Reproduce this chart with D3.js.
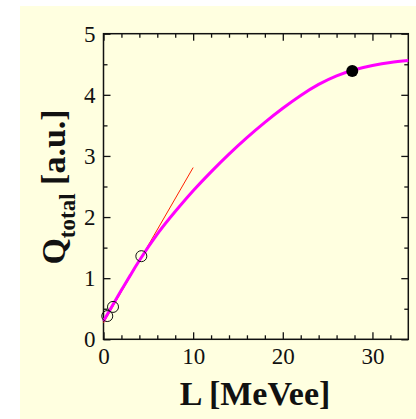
<!DOCTYPE html>
<html>
<head>
<meta charset="utf-8">
<script src="https://cdn.jsdelivr.net/npm/d3@7"></script>
<style>
  html, body { margin: 0; padding: 0; background: #ffffff; }
  svg { display: block; }
  text { font-family: "Liberation Serif", "Times New Roman", serif; fill: #111; }
</style>
</head>
<body>
<svg id="chart" width="416" height="419"></svg>
<script>
// Fitted response curve Q_total(L)
const curveL = [0, 1, 2, 3, 4, 6, 8, 10, 12, 14, 16, 18, 20, 22, 24, 26, 28, 30, 32, 34];
const curveQ = [0.30, 0.555, 0.805, 1.05, 1.29, 1.72, 2.09, 2.43, 2.74, 3.03, 3.30, 3.55, 3.78, 3.99, 4.17, 4.31, 4.41, 4.48, 4.53, 4.56];

// Linear extrapolation from the low-energy points
const linearL = [0, 10];
const linearQ = [0.27, 2.81];

// Measured points: open circles (low energies) and the filled reference point
const openL = [0.42, 1.06, 4.22];
const openQ = [0.38, 0.53, 1.36];
const filledL = [27.75];
const filledQ = [4.39];

// Axis ticks
const xMajor = [0, 10, 20, 30];
const xMinor = [2, 4, 6, 8, 12, 14, 16, 18, 22, 24, 26, 28, 32];
const yMajor = [0, 1, 2, 3, 4, 5];
const yMinor = [0.5, 1.5, 2.5, 3.5, 4.5];

const svg = d3.select("#chart");

// pale panel behind the plot
svg.append("rect")
  .attr("x", 20).attr("y", 6)
  .attr("width", 396).attr("height", 413)
  .attr("fill", "#ffffe0");

const plotL = 103.5, plotR = 408.3, plotT = 33.7, plotB = 339.3;
const x = d3.scaleLinear().domain([0, 34]).range([plotL, plotR]);
const y = d3.scaleLinear().domain([0, 5]).range([plotB, plotT]);

const MAJ = 7, MIN = 4;
const SERIF = "'Liberation Serif', 'Times New Roman', serif";

function addAxis(axisFn, scale, values, size, translate, labels, pad) {
  const ax = axisFn(scale).tickValues(values).tickSize(-size).tickPadding(pad || 8);
  ax.tickFormat(labels ? d3.format("d") : "");
  const g = svg.append("g").attr("transform", translate).call(ax);
  g.attr("font-family", null).attr("font-size", null);
  g.select(".domain").remove();
  g.selectAll(".tick line").attr("stroke", "#111").attr("stroke-width", 1.3);
  g.selectAll(".tick text")
    .style("font-family", SERIF)
    .style("font-size", "23px").style("fill", "#111");
  return g;
}

// bottom & top
addAxis(d3.axisBottom, x, xMajor, MAJ, `translate(0,${plotB})`, true, 8);
addAxis(d3.axisBottom, x, xMinor, MIN, `translate(0,${plotB})`, false);
addAxis(d3.axisTop, x, xMajor, MAJ, `translate(0,${plotT})`, false);
addAxis(d3.axisTop, x, xMinor, MIN, `translate(0,${plotT})`, false);
// left & right
addAxis(d3.axisLeft, y, yMajor, MAJ, `translate(${plotL},0)`, true, 8);
addAxis(d3.axisLeft, y, yMinor, MIN, `translate(${plotL},0)`, false);
addAxis(d3.axisRight, y, yMajor, MAJ, `translate(${plotR},0)`, false);
addAxis(d3.axisRight, y, yMinor, MIN, `translate(${plotR},0)`, false);

// frame
svg.append("rect")
  .attr("x", plotL).attr("y", plotT)
  .attr("width", plotR - plotL).attr("height", plotB - plotT)
  .attr("fill", "none").attr("stroke", "#111").attr("stroke-width", 1.5);

const plot = svg.append("g");

// red linear extrapolation (drawn beneath the curve)
const lineGen = d3.line().x(d => x(d[0])).y(d => y(d[1]));
plot.append("path")
  .datum(d3.zip(linearL, linearQ))
  .attr("d", lineGen)
  .attr("fill", "none").attr("stroke", "#ff2000").attr("stroke-width", 1);

// magenta response curve
const curveGen = d3.line().x(d => x(d[0])).y(d => y(d[1])).curve(d3.curveNatural);
plot.append("path")
  .datum(d3.zip(curveL, curveQ))
  .attr("d", curveGen)
  .attr("fill", "none").attr("stroke", "#ff00ff").attr("stroke-width", 3);

// open circles
plot.selectAll("circle.open")
  .data(d3.zip(openL, openQ))
  .join("circle")
  .attr("class", "open")
  .attr("cx", d => x(d[0])).attr("cy", d => y(d[1]))
  .attr("r", 5.5)
  .attr("fill", "none").attr("stroke", "#111").attr("stroke-width", 1);

// filled point
plot.selectAll("circle.filled")
  .data(d3.zip(filledL, filledQ))
  .join("circle")
  .attr("class", "filled")
  .attr("cx", d => x(d[0])).attr("cy", d => y(d[1]))
  .attr("r", 6)
  .attr("fill", "#000");

// axis titles
svg.append("text")
  .attr("x", 255).attr("y", 405)
  .attr("text-anchor", "middle")
  .style("font-family", SERIF)
  .attr("font-size", 34).attr("font-weight", "bold")
  .text("L [MeVee]");

const yt = svg.append("text")
  .attr("transform", "translate(65,187) rotate(-90)")
  .attr("text-anchor", "middle")
  .style("font-family", SERIF)
  .attr("font-size", 34).attr("font-weight", "bold");
yt.append("tspan").text("Q");
yt.append("tspan").attr("font-size", 23).attr("dy", 10).text("total");
yt.append("tspan").attr("dy", -10).text(" [a.u.]");
</script>
</body>
</html>
